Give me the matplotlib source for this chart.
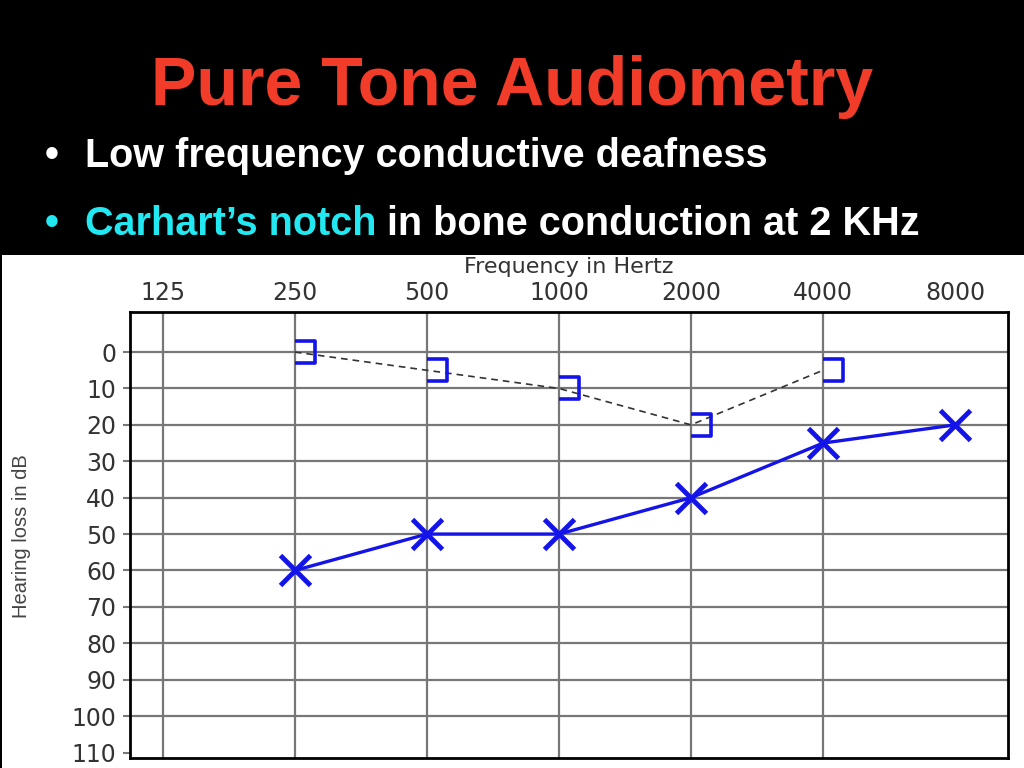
import matplotlib
matplotlib.use('Agg')
import matplotlib.pyplot as plt
from matplotlib.patches import Rectangle
from matplotlib.path import Path
from matplotlib.text import Annotation
from matplotlib.ticker import NullLocator

# ---- data ----
freq_ticks = [125, 250, 500, 1000, 2000, 4000, 8000]
db_ticks = [0, 10, 20, 30, 40, 50, 60, 70, 80, 90, 100, 110]
air_freqs = [250, 500, 1000, 2000, 4000, 8000]
air_db = [60, 50, 50, 40, 25, 20]
bone_freqs = [250, 500, 1000, 2000, 4000]
bone_db = [0, 5, 10, 20, 5]

title = 'Pure Tone Audiometry'
bullet1 = 'Low frequency conductive deafness'
bullet2_hl = 'Carhart\u2019s notch'
bullet2_rest = ' in bone conduction at 2 KHz'

W, H = 1024, 768
fig = plt.figure(figsize=(W / 100, H / 100), dpi=100, facecolor='black')

# white panel under the chart
fig.add_artist(Rectangle((2 / W, 0), 1 - 2 / W, 513 / H, transform=fig.transFigure,
                         facecolor='white', edgecolor='none', zorder=-10))

# header text
hfont = 'Liberation Sans'
fig.text(0.5, 1 - 105 / H, title, ha='center', va='baseline', fontsize=49,
         fontweight='bold', family=hfont, color='#f03c28')
fig.text(45 / W, 1 - 167 / H, '\u2022', ha='left', va='baseline', fontsize=28.5,
         fontweight='bold', family=hfont, color='white')
fig.text(85 / W, 1 - 167 / H, bullet1, ha='left', va='baseline', fontsize=28.5,
         fontweight='bold', family=hfont, color='white')
cyan = '#22e8f2'
fig.text(45 / W, 1 - 235 / H, '\u2022', ha='left', va='baseline', fontsize=28.5,
         fontweight='bold', family=hfont, color=cyan)
t_hl = fig.text(85 / W, 1 - 235 / H, bullet2_hl, ha='left', va='baseline', fontsize=28.5,
                fontweight='bold', family=hfont, color=cyan)
rest = Annotation(bullet2_rest, xy=(1, 0), xycoords=t_hl, ha='left', va='bottom',
                  fontsize=28.5, fontweight='bold', family=hfont, color='white')
fig.add_artist(rest)

# audiogram axes
ax = fig.add_axes([130 / W, 10 / H, 878 / W, 446 / H])
ax.set_facecolor('white')
ax.set_xscale('log', base=2)
ax.set_xlim(105.3, 10556)
ax.set_ylim(111.5, -11)

grid_c = '#777777'
for f in freq_ticks[:-1]:
    ax.axvline(f, color=grid_c, lw=1.6, zorder=1)
for d in db_ticks[:-1]:
    ax.axhline(d, color=grid_c, lw=1.6, zorder=1)

ax.set_xticks(freq_ticks)
ax.set_xticklabels([str(f) for f in freq_ticks])
ax.xaxis.set_minor_locator(NullLocator())
ax.set_yticks(db_ticks)
ax.set_yticklabels([str(d) for d in db_ticks])

tick_c = '#333333'
ax.tick_params(axis='x', top=True, labeltop=True, bottom=False, labelbottom=False,
               length=0, pad=5, labelsize=17, labelcolor=tick_c)
ax.tick_params(axis='y', left=True, length=5, width=1.5, color=grid_c, pad=5,
               labelsize=17, labelcolor=tick_c)
for lab in ax.get_xticklabels() + ax.get_yticklabels():
    lab.set_family('DejaVu Sans')

ax.xaxis.set_label_position('top')
ax.set_xlabel('Frequency in Hertz', fontsize=16, color=tick_c, labelpad=6,
              family='DejaVu Sans')

for sp in ax.spines.values():
    sp.set_color('black')
    sp.set_linewidth(2)

fig.text(22 / W, 1 - 536 / H, 'Hearing loss in dB', rotation=90, ha='center',
         va='center', fontsize=14.5, family='Liberation Sans', color='#444444')

# bone conduction: "]" markers + dashed line
bracket = Path([(0, 0.55), (1, 0.55), (1, -0.55), (0, -0.55)],
               [Path.MOVETO, Path.LINETO, Path.LINETO, Path.LINETO])
blue = '#1414e8'
ax.plot(bone_freqs, bone_db, ls=(0, (4, 3)), color='#333333', lw=1.2, zorder=3)
ax.plot(bone_freqs, bone_db, ls='none', marker=bracket, ms=29, mec=blue,
        mfc='none', mew=2.6, zorder=4)

# air conduction: X markers + solid line
ax.plot(air_freqs, air_db, color=blue, lw=2.4, marker='x', ms=21, mew=3.5, zorder=5)

fig.savefig('out.png', dpi=100, facecolor='black')
